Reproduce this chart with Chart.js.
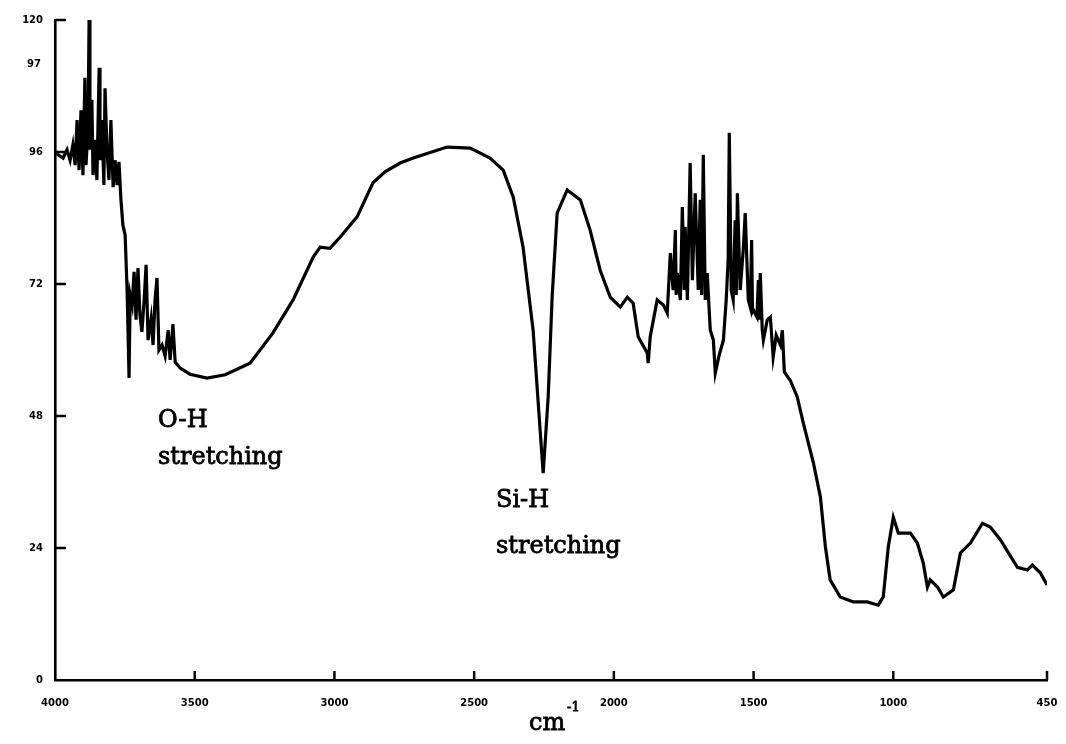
<!DOCTYPE html>
<html>
<head>
<meta charset="utf-8">
<script src="https://cdn.jsdelivr.net/npm/chart.js@4.4.1/dist/chart.umd.min.js"></script>
<style>
  html, body { margin: 0; padding: 0; background: #fff; }
  #wrap { width: 1066px; height: 744px; }
</style>
</head>
<body>
<div id="wrap"><canvas id="ir"></canvas></div>
<script>
// Espectro IR (numero de onda em cm-1, transmitancia %)
const wavenumbers = [
  4000, 3989, 3971, 3957, 3946, 3936, 3928, 3921, 3914, 3907, 3900, 3893, 3889, 3882, 3878, 3875,
  3868, 3864, 3857, 3850, 3842, 3839, 3832, 3825, 3821, 3814, 3807, 3800, 3792, 3785, 3778, 3771,
  3764, 3757, 3749, 3742, 3735, 3731,
  3724, 3717, 3710, 3703, 3696, 3689, 3681, 3674, 3667, 3656, 3649, 3642, 3635, 3628, 3617, 3606,
  3595, 3588, 3578, 3570, 3552, 3517, 3456, 3391, 3302, 3220, 3148, 3076, 3051, 3016, 2980, 2919,
  2862, 2819, 2765, 2718, 2597, 2514, 2443, 2396, 2360, 2325, 2289, 2264, 2253, 2235, 2221, 2203,
  2167, 2120, 2085, 2049, 2013, 1977, 1952, 1931, 1913, 1881, 1877, 1870, 1845, 1823, 1809, 1798,
  1788, 1780, 1777, 1773, 1762, 1755, 1748, 1745, 1737, 1727, 1719, 1709, 1698, 1691, 1686, 1680,
  1673, 1666, 1655, 1644,
  1637, 1623, 1608, 1598, 1591, 1587, 1580, 1573, 1566, 1562, 1558, 1548, 1537, 1530, 1519, 1512,
  1507, 1504, 1501, 1488, 1483, 1480, 1476,
  1469, 1465, 1451, 1440, 1430, 1419, 1404, 1397, 1390, 1369, 1344, 1322, 1286, 1261, 1243, 1226,
  1190, 1143, 1093, 1054, 1036, 1018, 1000, 982, 939, 914, 893, 878, 868, 842, 821, 785,
  760, 724, 681, 653, 617, 556, 520, 502, 474, 450
];
const transmittance = [
  96.0, 95.5, 94.9, 96.4, 94.5, 97.3, 93.6, 101.8, 92.7, 103.6, 91.8, 109.5, 93.6, 100.0, 120.0, 96.4,
  105.5, 91.8, 98.2, 90.9, 111.3, 94.5, 101.8, 90.0, 107.6, 96.4, 90.9, 101.8, 89.6, 94.5, 90.0, 94.2,
  87.3, 82.7, 80.9, 70.9, 54.9, 70.0,
  68.2, 74.2, 65.5, 74.9, 66.4, 63.3, 69.1, 75.5, 61.8, 65.8, 60.9, 69.1, 73.1, 60.0, 60.9, 58.9,
  63.6, 58.2, 64.7, 57.8, 56.7, 55.6, 54.9, 55.5, 57.6, 63.1, 69.1, 76.9, 78.7, 78.5, 80.5, 84.2,
  90.4, 92.4, 94.0, 94.9, 96.9, 96.7, 94.9, 92.7, 87.8, 78.7, 63.6, 45.5, 37.6, 51.5, 69.6, 84.9,
  89.1, 87.3, 81.8, 74.5, 69.6, 67.8, 69.6, 68.5, 62.4, 59.5, 57.6, 62.4, 69.1, 68.2, 66.7, 77.6,
  70.9, 81.8, 70.0, 74.0, 69.1, 86.0, 70.9, 82.4, 69.1, 94.0, 72.7, 88.5, 70.9, 87.3, 70.0, 95.5,
  69.1, 74.0, 63.6, 61.8,
  55.8, 59.1, 61.8, 69.1, 76.4, 99.5, 70.9, 69.1, 83.6, 70.0, 88.5, 70.9, 78.2, 84.9, 69.1, 67.8,
  80.0, 67.0, 67.3, 66.0, 72.7, 65.5, 74.0,
  63.6, 61.8, 65.5, 66.0, 58.7, 62.7, 60.9, 63.6, 56.0, 54.5, 51.5, 46.7, 39.5, 33.3, 24.2, 18.2,
  15.1, 14.2, 14.2, 13.6, 15.1, 24.2, 29.6, 26.7, 26.7, 24.9, 21.3, 16.9, 18.2, 16.9, 15.1, 16.4,
  23.1, 24.9, 28.5, 27.8, 25.5, 20.5, 20.0, 20.9, 19.5, 17.3
];

// Marcas dos eixos
const xTickValues = [4000, 3500, 3000, 2500, 2000, 1500, 1000, 450];
const yTickValues = [0, 24, 48, 72, 96, 120];

const points = wavenumbers.map((w, i) => ({ x: w, y: transmittance[i] }));

// Marcas curtas viradas para dentro + textos das bandas
const innerTicks = {
  id: 'innerTicks',
  afterDraw(chart) {
    const ctx = chart.ctx;
    const xs = chart.scales.x, ys = chart.scales.y;
    const area = chart.chartArea;
    ctx.save();
    ctx.strokeStyle = '#000';
    ctx.lineWidth = 2.5;
    yTickValues.forEach(v => {
      if (v === 0) return;
      const py = ys.getPixelForValue(v);
      ctx.beginPath();
      ctx.moveTo(area.left, py);
      ctx.lineTo(area.left + 11, py);
      ctx.stroke();
    });
    xTickValues.forEach(v => {
      if (v === 4000) return;
      const px = xs.getPixelForValue(v);
      ctx.beginPath();
      ctx.moveTo(px, area.bottom);
      ctx.lineTo(px, area.bottom - 9);
      ctx.stroke();
    });

    // rotulo extra do eixo y
    ctx.fillStyle = '#000';
    ctx.font = 'bold 10px "DejaVu Sans"';
    ctx.textAlign = 'right';
    ctx.textBaseline = 'middle';
    ctx.fillText('97', area.left - 14, ys.getPixelForValue(112));

    // textos das bandas (um pouco engrossados, como no original escaneado)
    ctx.textAlign = 'left';
    ctx.font = '24px "DejaVu Serif"';
    ctx.lineWidth = 0.8;
    const txt = (s, x, y) => { ctx.fillText(s, x, y); ctx.strokeText(s, x, y); };
    txt('O-H', 158, 421);
    txt('stretching', 158, 458);
    txt('Si-H', 496, 501);
    txt('stretching', 496, 547);

    // titulo do eixo x
    txt('cm', 529, 724);
    ctx.font = '13px "DejaVu Serif"';
    txt('-1', 567, 708);
    ctx.restore();
  }
};

new Chart(document.getElementById('ir'), {
  type: 'line',
  data: {
    datasets: [{
      data: points,
      borderColor: '#000',
      borderWidth: 3.2,
      pointRadius: 0,
      tension: 0,
      fill: false
    }]
  },
  options: {
    responsive: true,
    maintainAspectRatio: false,
    animation: false,
    layout: { padding: { top: 20, right: 19, left: 0, bottom: 0 } },
    plugins: {
      legend: { display: false },
      tooltip: { enabled: false }
    },
    scales: {
      x: {
        type: 'linear',
        reverse: true,
        min: 450,
        max: 4000,
        afterBuildTicks: (scale) => { scale.ticks = xTickValues.map(v => ({ value: v })); },
        afterFit: (scale) => { scale.height = 64; },
        // o espaco ate os rotulos vem de tickLength (transparente), nao de ticks.padding
        grid: { display: true, drawOnChartArea: false, drawTicks: true, tickLength: 17, tickColor: 'rgba(0,0,0,0)' },
        border: { display: true, color: '#000', width: 2.6 },
        ticks: {
          color: '#000',
          padding: 0,
          autoSkip: false,
          maxRotation: 0,
          font: { family: 'DejaVu Sans', size: 10, weight: 'bold' },
          callback: (v) => String(v)
        }
      },
      y: {
        min: 0,
        max: 120,
        afterBuildTicks: (scale) => { scale.ticks = yTickValues.map(v => ({ value: v })); },
        afterFit: (scale) => { scale.width = 55; },
        grid: { display: false, drawTicks: false },
        border: { display: true, color: '#000', width: 2.6 },
        ticks: {
          color: '#000',
          padding: 12,
          font: { family: 'DejaVu Sans', size: 10, weight: 'bold' },
          callback: (v) => String(v)
        }
      }
    }
  },
  plugins: [innerTicks]
});
</script>
</body>
</html>
